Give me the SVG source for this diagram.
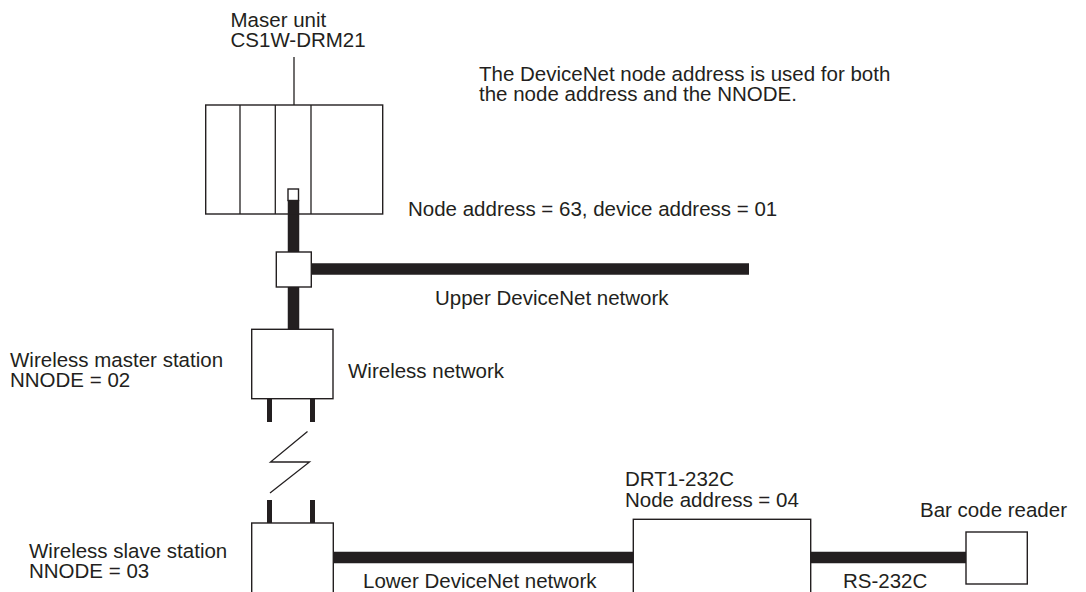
<svg xmlns="http://www.w3.org/2000/svg" width="1086" height="592" viewBox="0 0 1086 592">
<style>
text{font-family:"Liberation Sans",Arial,sans-serif;font-size:20.5px;fill:#231f20}
.box{fill:#fff;stroke:#231f20;stroke-width:1.4}
.bus{stroke:#231f20;stroke-width:11.5;fill:none}
.leg{stroke:#231f20;stroke-width:5;fill:none}
.thin{stroke:#231f20;stroke-width:1.3;fill:none}
</style>
<rect width="1086" height="592" fill="#fff"/>
<g id="connectors">
<line class="thin" x1="294" y1="57" x2="294" y2="105"/>
<line class="bus" x1="293.5" y1="200" x2="293.5" y2="253"/>
<line class="bus" x1="310" y1="269" x2="749" y2="269"/>
<line class="bus" x1="293.5" y1="287" x2="293.5" y2="329"/>
<line class="leg" x1="269.5" y1="399" x2="269.5" y2="422"/>
<line class="leg" x1="312.5" y1="399" x2="312.5" y2="422"/>
<polyline class="thin" points="307.5,431.5 270.5,462 309.5,462 270,493"/>
<line class="leg" x1="269.5" y1="500" x2="269.5" y2="523"/>
<line class="leg" x1="312.5" y1="500" x2="312.5" y2="523"/>
<line class="bus" x1="333" y1="557.5" x2="634" y2="557.5"/>
<line class="bus" x1="810" y1="557.5" x2="966" y2="557.5"/>
</g>
<g id="master-unit">
<rect class="box" x="205.7" y="105" width="177" height="109"/>
<line class="thin" x1="240" y1="105" x2="240" y2="214"/>
<line class="thin" x1="275.3" y1="105" x2="275.3" y2="214"/>
<line class="thin" x1="311" y1="105" x2="311" y2="214"/>
<rect class="box" x="288" y="189" width="10.5" height="11.5" stroke-width="1"/>
<line class="bus" x1="293.5" y1="200" x2="293.5" y2="214"/>
<text x="230.5" y="27">Maser unit</text>
<text x="230.5" y="47">CS1W-DRM21</text>
</g>
<g id="note">
<text x="479" y="81">The DeviceNet node address is used for both</text>
<text x="479" y="101">the node address and the NNODE.</text>
</g>
<text x="408" y="216">Node address = 63, device address = 01</text>
<g id="junction">
<rect class="box" x="276.3" y="252" width="35" height="35"/>
</g>
<text x="435" y="305">Upper DeviceNet network</text>
<g id="wireless-master">
<rect class="box" x="251.7" y="329.3" width="81.3" height="69.4"/>
<text x="10" y="367">Wireless master station</text>
<text x="10" y="387">NNODE = 02</text>
</g>
<text x="348" y="378">Wireless network</text>
<g id="wireless-slave">
<rect class="box" x="251.7" y="523" width="81.6" height="80"/>
<text x="29" y="558">Wireless slave station</text>
<text x="29" y="578">NNODE = 03</text>
</g>
<text x="363" y="588">Lower DeviceNet network</text>
<g id="drt">
<rect class="box" x="633.3" y="519.3" width="177.4" height="85"/>
<text x="625" y="486">DRT1-232C</text>
<text x="625" y="507">Node address = 04</text>
</g>
<text x="843" y="588">RS-232C</text>
<g id="barcode">
<rect class="box" x="966" y="532" width="61.3" height="52"/>
<text x="920" y="517">Bar code reader</text>
</g>
</svg>
